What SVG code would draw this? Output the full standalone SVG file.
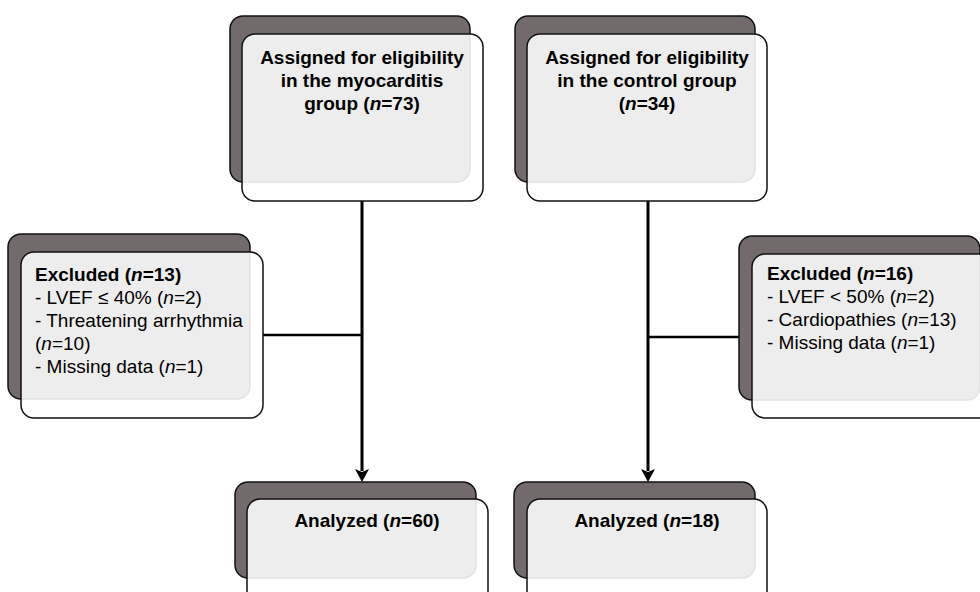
<svg xmlns="http://www.w3.org/2000/svg" width="980" height="592" viewBox="0 0 980 592">
<style>
.bk{fill:#736b6b;stroke:#111;stroke-width:1.5}
.fr{fill:#fff;fill-opacity:0.88;stroke:#111;stroke-width:1.5}
.t{font-family:"Liberation Sans",Arial,sans-serif;font-size:19px;fill:#000}
.b{font-weight:bold}
.c{text-anchor:middle}
.ln{stroke:#000;stroke-width:2.5;fill:none}
.v{stroke-width:3}
</style>
<defs>
<marker id="arr" viewBox="0 0 13 14" refX="2" refY="7" markerWidth="13" markerHeight="14" markerUnits="userSpaceOnUse" orient="auto">
<path d="M0,0 L13,7 L0,14 L3,7 z" fill="#000"/>
</marker>
</defs>
<rect width="980" height="592" fill="#fff"/>
<g id="connectors">
<line class="ln v" x1="362" y1="201" x2="362" y2="471" marker-end="url(#arr)"/>
<line class="ln" x1="263" y1="335" x2="362" y2="335"/>
<line class="ln v" x1="648" y1="201" x2="648" y2="471" marker-end="url(#arr)"/>
<line class="ln" x1="648" y1="337" x2="739" y2="337"/>
</g>
<g id="assigned-myocarditis">
<rect class="bk" x="230" y="16" width="240" height="166" rx="13"/>
<rect class="fr" x="242" y="34" width="241" height="167" rx="13"/>
<text class="t b c" x="362" y="64">Assigned for eligibility</text>
<text class="t b c" x="362" y="87">in the myocarditis</text>
<text class="t b c" x="362" y="110">group (<tspan font-style="italic">n</tspan>=73)</text>
</g>
<g id="assigned-control">
<rect class="bk" x="515" y="16" width="240" height="166" rx="13"/>
<rect class="fr" x="527" y="34" width="240" height="167" rx="13"/>
<text class="t b c" x="647" y="64">Assigned for eligibility</text>
<text class="t b c" x="647" y="87">in the control group</text>
<text class="t b c" x="647" y="110">(<tspan font-style="italic">n</tspan>=34)</text>
</g>
<g id="excluded-myocarditis">
<rect class="bk" x="8" y="234" width="242" height="165" rx="13"/>
<rect class="fr" x="21" y="252" width="242" height="166" rx="13"/>
<text class="t b" x="35" y="281">Excluded (<tspan font-style="italic">n</tspan>=13)</text>
<text class="t" x="35" y="304">- LVEF ≤ 40% (<tspan font-style="italic">n</tspan>=2)</text>
<text class="t" x="35" y="327">- Threatening arrhythmia</text>
<text class="t" x="35" y="350">(<tspan font-style="italic">n</tspan>=10)</text>
<text class="t" x="35" y="373">- Missing data (<tspan font-style="italic">n</tspan>=1)</text>
</g>
<g id="excluded-control">
<rect class="bk" x="739" y="236" width="241" height="164" rx="13"/>
<rect class="fr" x="752" y="254" width="242" height="164" rx="13"/>
<text class="t b" x="767" y="280">Excluded (<tspan font-style="italic">n</tspan>=16)</text>
<text class="t" x="767" y="303">- LVEF &lt; 50% (<tspan font-style="italic">n</tspan>=2)</text>
<text class="t" x="767" y="326">- Cardiopathies (<tspan font-style="italic">n</tspan>=13)</text>
<text class="t" x="767" y="349">- Missing data (<tspan font-style="italic">n</tspan>=1)</text>
</g>
<g id="analyzed-myocarditis">
<rect class="bk" x="235" y="482" width="241" height="96" rx="13"/>
<rect class="fr" x="247" y="499" width="241" height="110" rx="13"/>
<text class="t b c" x="367" y="527">Analyzed (<tspan font-style="italic">n</tspan>=60)</text>
</g>
<g id="analyzed-control">
<rect class="bk" x="514" y="482" width="241" height="96" rx="13"/>
<rect class="fr" x="527" y="499" width="240" height="110" rx="13"/>
<text class="t b c" x="647" y="527">Analyzed (<tspan font-style="italic">n</tspan>=18)</text>
</g>
</svg>
